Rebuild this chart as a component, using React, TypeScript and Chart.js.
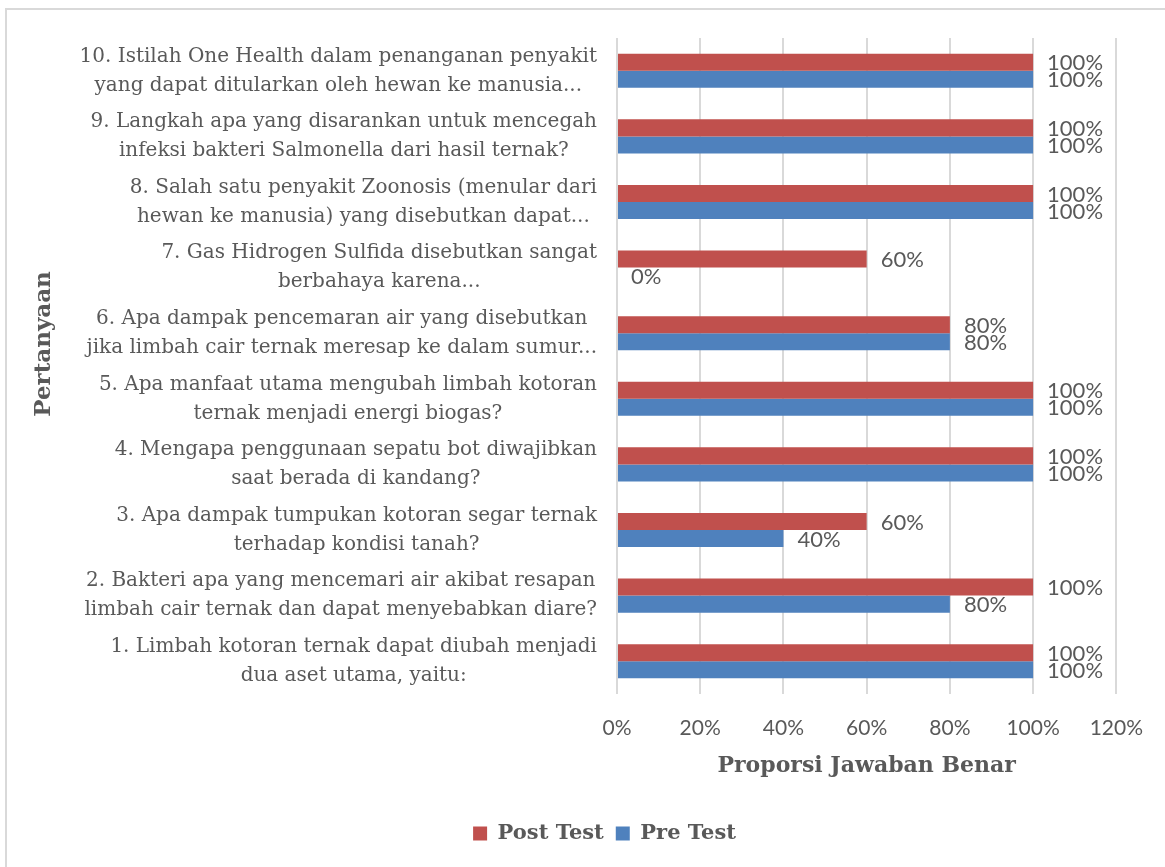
import React, { useEffect, useRef } from "react";
import { Chart, registerables } from "chart.js";

Chart.register(...registerables);

const categories: string[][] = [
  ["10. Istilah One Health dalam penanganan penyakit", "yang dapat ditularkan oleh hewan ke manusia..."],
  ["9. Langkah apa yang disarankan untuk mencegah", "infeksi bakteri Salmonella dari hasil ternak?"],
  ["8. Salah satu penyakit Zoonosis (menular dari", "hewan ke manusia) yang disebutkan dapat..."],
  ["7. Gas Hidrogen Sulfida disebutkan sangat", "berbahaya karena..."],
  ["6. Apa dampak pencemaran air yang disebutkan", "jika limbah cair ternak meresap ke dalam sumur..."],
  ["5. Apa manfaat utama mengubah limbah kotoran", "ternak menjadi energi biogas?"],
  ["4. Mengapa penggunaan sepatu bot diwajibkan", "saat berada di kandang?"],
  ["3. Apa dampak tumpukan kotoran segar ternak", "terhadap kondisi tanah?"],
  ["2. Bakteri apa yang mencemari air akibat resapan", "limbah cair ternak dan dapat menyebabkan diare?"],
  ["1. Limbah kotoran ternak dapat diubah menjadi", "dua aset utama, yaitu:"],
];

const postTest = [100, 100, 100, 60, 80, 100, 100, 60, 100, 100];
const preTest = [100, 100, 100, 0, 80, 100, 100, 40, 80, 100];
const xTicks = [0, 20, 40, 60, 80, 100, 120];
const yAxisTitle = "Pertanyaan";
const xAxisTitle = "Proporsi Jawaban Benar";

const GRAY = "#595959";
const SERIF = '"DejaVu Serif", "Liberation Serif", serif';
const SANS = 'Lato, "Open Sans", sans-serif';

const categoryLabelPlugin = {
  id: "categoryLabels",
  afterDraw(chart: any) {
    const ys = chart.scales.y;
    const ctx = chart.ctx as CanvasRenderingContext2D;
    const right = chart.chartArea.left - 20;
    const lineGap = 29;
    ctx.save();
    ctx.font = `20px ${SERIF}`;
    ctx.fillStyle = GRAY;
    ctx.textAlign = "center";
    ctx.textBaseline = "middle";
    categories.forEach((lines, i) => {
      const y = ys.getPixelForValue(i);
      const w = Math.max(...lines.map((l) => ctx.measureText(l).width));
      const cx = right - w / 2;
      lines.forEach((l, j) => {
        ctx.fillText(l, cx, y + (j - (lines.length - 1) / 2) * lineGap);
      });
    });
    // vertical axis title
    ctx.font = `bold 23px ${SERIF}`;
    ctx.translate(38, (chart.chartArea.top + chart.chartArea.bottom) / 2 - 22);
    ctx.rotate(-Math.PI / 2);
    ctx.fillText(yAxisTitle, 0, 0);
    ctx.restore();
  },
};

const valueLabelPlugin = {
  id: "valueLabels",
  afterDatasetsDraw(chart: any) {
    const ctx = chart.ctx as CanvasRenderingContext2D;
    ctx.save();
    ctx.font = `22px ${SANS}`;
    ctx.fillStyle = GRAY;
    ctx.textAlign = "left";
    ctx.textBaseline = "middle";
    chart.data.datasets.forEach((ds: any, di: number) => {
      const meta = chart.getDatasetMeta(di);
      meta.data.forEach((bar: any, i: number) => {
        ctx.fillText(`${ds.data[i]}%`, bar.x + 14, bar.y + 1);
      });
    });
    ctx.restore();
  },
};

export default function App() {
  const ref = useRef<HTMLCanvasElement | null>(null);

  useEffect(() => {
    if (!ref.current) return;
    const chart = new Chart(ref.current, {
      type: "bar",
      data: {
        labels: categories.map((c) => c.join(" ")),
        datasets: [
          {
            label: "Post Test",
            data: postTest,
            backgroundColor: "#C0504D",
            categoryPercentage: 0.52,
            barPercentage: 1,
          },
          {
            label: "Pre Test",
            data: preTest,
            backgroundColor: "#4F81BD",
            categoryPercentage: 0.52,
            barPercentage: 1,
          },
        ],
      },
      options: {
        indexAxis: "y",
        responsive: false,
        animation: false,
        layout: { padding: { left: 86, right: 48, top: 29, bottom: 13 } },
        plugins: {
          legend: {
            position: "bottom",
            labels: {
              boxWidth: 14,
              boxHeight: 14,
              padding: 12,
              color: GRAY,
              font: { family: SERIF, size: 21, weight: "bold" },
            },
          },
          tooltip: { enabled: false },
        },
        scales: {
          x: {
            min: 0,
            max: 120,
            afterBuildTicks: (s: any) => {
              s.ticks = xTicks.map((v) => ({ value: v }));
            },
            ticks: {
              callback: (v: any) => `${v}%`,
              color: GRAY,
              font: { family: SANS, size: 21 },
              padding: 22,
            },
            grid: { color: "#D9D9D9", lineWidth: 2, drawTicks: false },
            border: { display: false },
            title: {
              display: true,
              text: xAxisTitle,
              color: GRAY,
              font: { family: SERIF, size: 22, weight: "bold" },
              padding: { top: 0, bottom: 32 },
            },
            afterFit: (s: any) => {
              s.height = 117;
            },
          },
          y: {
            ticks: { display: false },
            grid: { display: false },
            border: { display: false },
            title: { display: false },
            afterFit: (s: any) => {
              s.width = 525;
            },
          },
        },
      } as any,
      plugins: [categoryLabelPlugin, valueLabelPlugin],
    });
    return () => chart.destroy();
  }, []);

  return (
    <div style={{ position: "fixed", inset: 0, overflow: "hidden", background: "#fff" }}>
      <div
        style={{
          position: "absolute",
          left: 5,
          top: 8,
          width: 1200,
          height: 900,
          border: "2px solid #D9D9D9",
          boxSizing: "border-box",
        }}
      />
      <canvas
        ref={ref}
        width={1159}
        height={858}
        style={{ position: "absolute", left: 6, top: 9, width: 1159, height: 858, display: "block" }}
      />
    </div>
  );
}
